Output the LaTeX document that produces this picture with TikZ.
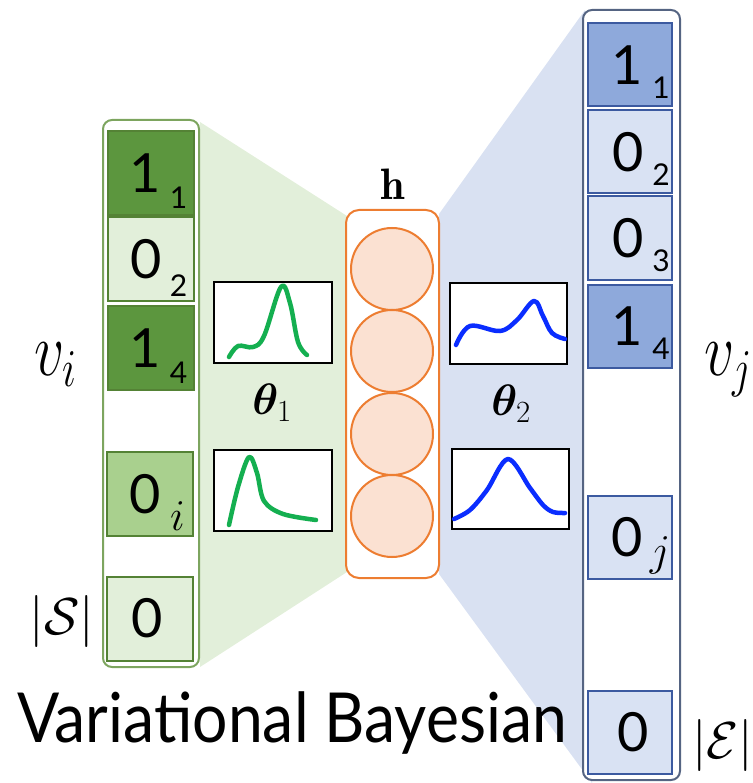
\RequirePackage{fix-cm}
\documentclass[tikz,border=0pt]{standalone}
\usepackage{amsmath,bm}
\usepackage{fontspec}
\setsansfont{Lato}
\definecolor{gtrap}{RGB}{226,239,218}
\definecolor{gdark}{RGB}{92,150,62}
\definecolor{gmid}{RGB}{169,208,142}
\definecolor{glight}{RGB}{226,239,218}
\definecolor{gline}{RGB}{84,130,53}
\definecolor{gcont}{RGB}{125,165,95}
\definecolor{btrap}{RGB}{217,225,242}
\definecolor{bdark}{RGB}{142,169,219}
\definecolor{blight}{RGB}{217,226,243}
\definecolor{bline}{RGB}{60,90,160}
\definecolor{bcont}{RGB}{85,100,130}
\definecolor{orng}{RGB}{237,125,49}
\definecolor{orfill}{RGB}{251,225,210}
\definecolor{gcurve}{RGB}{20,175,80}
\definecolor{bcurve}{RGB}{10,45,255}
\tikzset{
  cont/.style={draw, line width=2pt, fill=white, rounded corners=9pt},
  gcell/.style={draw=gline, line width=2pt, minimum width=86pt, minimum height=84pt, inner sep=0pt},
  bcell/.style={draw=bline, line width=2pt, minimum width=84pt, minimum height=83pt, inner sep=0pt},
  digit/.style={font=\sffamily\fontsize{54}{54}\selectfont, inner sep=0pt},
  subdig/.style={font=\sffamily\fontsize{30}{30}\selectfont, inner sep=0pt},
  subital/.style={font=\fontsize{44}{44}\selectfont, inner sep=0pt},
  distbox/.style={draw=black, line width=2.5pt, fill=white, inner sep=0pt},
  hcirc/.style={circle, draw=orng, line width=2pt, fill=orfill, minimum size=82pt, inner sep=0pt},
  gcurvestyle/.style={draw=gcurve, line width=4.5pt, line cap=round, line join=round},
  bcurvestyle/.style={draw=bcurve, line width=4.5pt, line cap=round, line join=round},
  thlabel/.style={font=\fontsize{44}{44}\selectfont, inner sep=0pt},
  vlabel/.style={font=\fontsize{76}{76}\selectfont, inner sep=0pt, anchor=base west},
}
\begin{document}
\begin{tikzpicture}[x=1pt,y=-1pt]
\useasboundingbox (0,0) rectangle (752,783);
% trapezoids
\fill[gtrap] (200,122) -- (347,216) -- (347,572) -- (200,667) -- cycle;
\fill[btrap] (439,214) -- (585,10) -- (592,783) -- (439,574) -- cycle;
% containers
\draw[cont, draw=gcont] (103,120) rectangle (199,667);
\draw[cont, draw=bcont] (583,10) rectangle (680,780);
% green cells
\node[gcell, fill=gdark] (g1) at (150.5,173) {};
\node[gcell, fill=glight] (g2) at (150.5,259) {};
\node[gcell, fill=gdark] (g3) at (150.5,348) {};
\node[gcell, fill=gmid] (g4) at (149.5,494) {};
\node[gcell, fill=glight] (g5) at (150,618.5) {};
\node[digit, xshift=-5pt] at (g1.center) {1};
\node[subdig, xshift=28pt, yshift=-25pt] at (g1.center) {1};
\node[digit, xshift=-4pt] at (g2.center) {0};
\node[subdig, xshift=28pt, yshift=-27pt] at (g2.center) {2};
\node[digit, xshift=-5pt] at (g3.center) {1};
\node[subdig, xshift=28pt, yshift=-25pt] at (g3.center) {4};
\node[digit, xshift=-4pt] at (g4.center) {0};
\node[subital, xshift=28pt, yshift=-22pt] at (g4.center) {$i$};
\node[digit, xshift=-3pt] at (g5.center) {0};
% blue cells
\node[bcell, fill=bdark] (b1) at (630,65) {};
\node[bcell, fill=blight] (b2) at (630,152) {};
\node[bcell, fill=blight] (b3) at (630,238) {};
\node[bcell, fill=bdark] (b4) at (630,326) {};
\node[bcell, fill=blight] (b5) at (630,537.5) {};
\node[bcell, fill=blight] (b6) at (630,732) {};
\node[digit, xshift=-3pt] at (b1.center) {1};
\node[subdig, xshift=31pt, yshift=-23pt] at (b1.center) {1};
\node[digit, xshift=-2pt] at (b2.center) {0};
\node[subdig, xshift=31pt, yshift=-23pt] at (b2.center) {2};
\node[digit, xshift=-2pt] at (b3.center) {0};
\node[subdig, xshift=31pt, yshift=-23pt] at (b3.center) {3};
\node[digit, xshift=-3pt] at (b4.center) {1};
\node[subdig, xshift=31pt, yshift=-23pt] at (b4.center) {4};
\node[digit, xshift=-3pt] at (b5.center) {0};
\node[subital, xshift=30pt, yshift=-18pt] at (b5.center) {$j$};
\node[digit, xshift=3pt] at (b6.center) {0};
% hidden layer
\draw[draw=orng, line width=2pt, fill=white, rounded corners=13pt] (346,210) rectangle (439,578);
\node[hcirc] (h1) at (392,269) {};
\node[hcirc] (h2) at (392,351) {};
\node[hcirc] (h3) at (392,434) {};
\node[hcirc] (h4) at (392,516) {};
\node[font=\fontsize{44}{44}\selectfont, inner sep=0pt] (hl) at (393,184) {$\mathbf{h}$};
% distribution boxes
\node[distbox, minimum width=118pt, minimum height=81pt] (d1) at (273,322.5) {};
\node[distbox, minimum width=118pt, minimum height=81pt] (d2) at (273,490.5) {};
\node[distbox, minimum width=117pt, minimum height=81pt] (d3) at (508.5,323.5) {};
\node[distbox, minimum width=117pt, minimum height=80pt] (d4) at (510.5,489) {};
\draw[gcurvestyle] plot[smooth, tension=0.6] coordinates {(229,357) (238,346) (253,347) (264,336) (281,287) (290,303) (298,342) (307,355)};
\draw[gcurvestyle] plot[smooth, tension=0.55] coordinates {(229,525) (238,487) (249,457) (257,473) (264,501) (283,514) (316,520)};
\draw[bcurvestyle] plot[smooth, tension=0.6] coordinates {(456,345) (470,326) (500,331) (517,320) (534,301) (543,316) (552,333) (565,339)};
\draw[bcurvestyle] plot[smooth, tension=0.55] coordinates {(454,519) (470,510) (487,490) (508,459) (530,488) (543,505) (553,512) (565,513)};
% theta labels
\node[thlabel] (t1) at (272,403) {$\bm{\theta}_{1}$};
\node[thlabel] (t2) at (511,404) {$\bm{\theta}_{2}$};
% side labels
\node[vlabel] (vi) at (34,375) {\scalebox{0.78}[1]{$v_i$}};
\node[vlabel] (vj) at (704,375) {\scalebox{0.78}[1]{$v_j$}};
\node[font=\fontsize{52}{52}\selectfont, inner sep=0pt] (S) at (62,621) {$|\mathcal{S}|$};
\node[font=\fontsize{52}{52}\selectfont, inner sep=0pt] (E) at (723,745) {$|\mathcal{E}|$};
\node[font=\sffamily\fontsize{69}{69}\selectfont, inner sep=0pt, anchor=base west] (vb) at (17,742) {\scalebox{0.905}[1]{Variational Bayesian}};
\end{tikzpicture}
\end{document}
